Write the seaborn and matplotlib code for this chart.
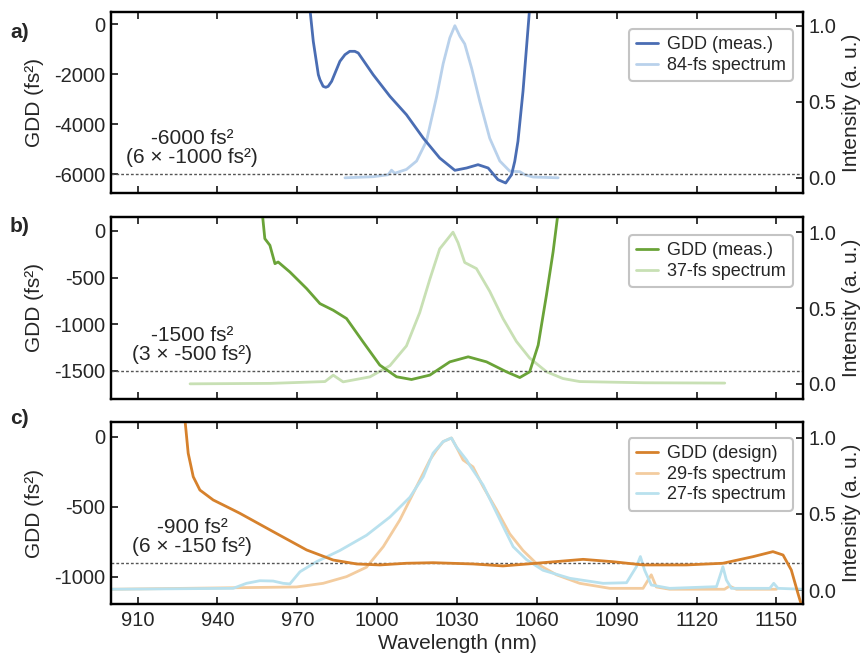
import numpy as np
import pandas as pd
import matplotlib
matplotlib.use("Agg")
import matplotlib.pyplot as plt
import seaborn as sns

# ---------------- data ----------------
# Panel a
a_gdd_wl = [973.8, 974.7, 976.0, 977.9, 978.5, 979.7, 980.7, 981.6, 982.9, 986.0, 987.9,
            989.7, 991.6, 992.9, 998.5, 1004.8, 1011.0, 1017.3, 1023.5, 1029.2, 1033.6,
            1037.9, 1041.7, 1045.4, 1048.3, 1050.5, 1051.7, 1052.9, 1054.8, 1056.3, 1057.3,
            1058.2]
a_gdd = [1500, 640, -693, -2027, -2227, -2493, -2533, -2493, -2293, -1493, -1227,
         -1093, -1093, -1160, -2027, -2893, -3627, -4560, -5360, -5853, -5760,
         -5627, -5760, -6227, -6360, -6027, -5493, -4693, -2693, -693, 640,
         1800]
a_spec_wl = [987.9, 998.5, 1004.1, 1005.4, 1006.6, 1011.0, 1014.8, 1018.5, 1022.3, 1024.8,
             1027.3, 1029.2, 1031.1, 1032.9, 1035.5, 1038.6, 1042.3, 1046.1, 1049.8, 1053.6,
             1055.5, 1058.6, 1068.0]
a_spec = [0.0, 0.007, 0.02, 0.05, 0.03, 0.055, 0.11, 0.24, 0.53, 0.75,
          0.92, 1.0, 0.93, 0.88, 0.72, 0.50, 0.26, 0.11, 0.044, 0.04,
          0.02, 0.005, 0.0]

# Panel b
b_gdd_wl = [956.0, 956.8, 957.8, 959.7, 961.6, 962.8, 967.2, 973.5, 978.5, 983.5, 988.5,
            994.7, 1001.0, 1007.3, 1012.9, 1019.8, 1027.3, 1034.2, 1041.1, 1048.6, 1053.6,
            1057.3, 1060.5, 1063.6, 1066.1, 1068.0, 1069.0]
b_gdd = [450, 203, -82, -153, -350, -332, -439, -617, -778, -849, -938,
         -1188, -1437, -1562, -1591, -1544, -1402, -1348, -1402, -1509, -1570,
         -1509, -1223, -688, -225, 203, 450]
b_spec_wl = [929.7, 960.0, 980.4, 983.5, 987.2, 997.3, 1004.8, 1011.0, 1016.0, 1019.8,
             1023.5, 1026.0, 1028.5, 1030.4, 1032.9, 1037.3, 1042.3, 1047.3, 1052.3,
             1057.3, 1063.6, 1069.8, 1076.1, 1100.0, 1130.6]
b_spec = [0.0, 0.003, 0.015, 0.057, 0.013, 0.046, 0.12, 0.25, 0.47, 0.69,
          0.89, 0.945, 1.0, 0.93, 0.80, 0.76, 0.61, 0.43, 0.28,
          0.17, 0.08, 0.035, 0.015, 0.007, 0.005]

# Panel c
c_gdd_wl = [927.3, 927.8, 929.0, 930.9, 933.4, 938.4, 945.9, 948.4, 960.9, 973.5, 983.5,
            992.3, 1001.0, 1011.0, 1021.0, 1036.0, 1047.3, 1059.8, 1077.4, 1088.6, 1099.9,
            1116.2, 1129.9, 1141.2, 1148.7, 1152.5, 1155.6, 1158.1, 1159.4, 1160.5]
c_gdd = [200, 121, -116, -284, -379, -450, -521, -545, -676, -807, -879,
         -907, -914, -902, -898, -907, -921, -902, -874, -891, -914,
         -914, -902, -855, -819, -843, -950, -1117, -1200, -1350]
c_spec29_wl = [900.0, 969.7, 979.7, 988.5, 996.0, 1002.3, 1008.5, 1014.8, 1019.8, 1022.3,
               1024.8, 1027.9, 1029.8, 1032.3, 1036.0, 1039.8, 1044.8, 1049.8, 1054.8, 1059.8,
               1067.4, 1076.1, 1087.4, 1099.9, 1103.0, 1104.9, 1109.9, 1130.5, 1132.4, 1135.0,
               1150.0]
c_spec29 = [0.005, 0.02, 0.044, 0.088, 0.15, 0.285, 0.46, 0.68, 0.855, 0.92,
            0.976, 1.0, 0.94, 0.855, 0.81, 0.68, 0.53, 0.37, 0.26, 0.175,
            0.10, 0.044, 0.011, 0.011, 0.10, 0.02, 0.005, 0.005, 0.026, 0.005,
            0.005]
c_spec27_wl = [900.0, 945.9, 950.9, 955.9, 960.9, 964.7, 967.2, 971.0, 977.2, 986.0,
               996.0, 1004.8, 1012.3, 1017.3, 1021.0, 1024.8, 1027.9, 1029.8, 1033.6, 1034.8,
               1039.8, 1047.3, 1051.1, 1056.1, 1062.3, 1072.4, 1084.9, 1093.7, 1097.4, 1098.9,
               1100.5, 1103.0, 1109.9, 1127.5, 1128.7, 1129.9, 1131.2, 1133.1, 1147.5, 1149.0,
               1150.6, 1160.0]
c_spec27 = [0.005, 0.011, 0.044, 0.061, 0.059, 0.044, 0.04, 0.12, 0.186, 0.26,
            0.36, 0.48, 0.61, 0.745, 0.9, 0.976, 1.0, 0.94, 0.855, 0.82,
            0.69, 0.42, 0.285, 0.2, 0.13, 0.077, 0.044, 0.048, 0.153, 0.22,
            0.13, 0.033, 0.011, 0.022, 0.087, 0.153, 0.066, 0.011, 0.011, 0.044,
            0.011, 0.005]

x_ticks = [910, 940, 970, 1000, 1030, 1060, 1090, 1120, 1150]

# ---------------- style ----------------
sns.set_style("ticks")
plt.rcParams['font.family'] = ['Liberation Sans', 'DejaVu Sans']
plt.rcParams['axes.unicode_minus'] = False

W, H = 863, 657
fig = plt.figure(figsize=(W / 100, H / 100), dpi=100)

def rect(top, bottom, left=111, right=803):
    return [left / W, 1 - bottom / H, (right - left) / W, (bottom - top) / H]

TICK_FS = 14.5
LAB_FS = 15

panels = [
    dict(rect=rect(12, 193), gdd=(a_gdd_wl, a_gdd, 'GDD (meas.)', '#4a6db3'),
         spectra=[(a_spec_wl, a_spec, '84-fs spectrum', '#b9d1eb')],
         ylim=(-6760, 480), yticks=[0, -2000, -4000, -6000], target=-6000,
         text='-6000 fs²\n(6 × -1000 fs²)', y2lim=(-0.1, 1.09), legy=0.906),
    dict(rect=rect(217, 399), gdd=(b_gdd_wl, b_gdd, 'GDD (meas.)', '#6aa338'),
         spectra=[(b_spec_wl, b_spec, '37-fs spectrum', '#c8e0b4')],
         ylim=(-1800, 150), yticks=[0, -500, -1000, -1500], target=-1500,
         text='-1500 fs²\n(3 × -500 fs²)', y2lim=(-0.1, 1.1), legy=0.901),
    dict(rect=rect(422, 604), gdd=(c_gdd_wl, c_gdd, 'GDD (design)', '#d6812c'),
         spectra=[(c_spec29_wl, c_spec29, '29-fs spectrum', '#f3cc9f'),
                  (c_spec27_wl, c_spec27, '27-fs spectrum', '#b9e1ee')],
         ylim=(-1193, 107), yticks=[0, -500, -1000], target=-900,
         text='-900 fs²\n(6 × -150 fs²)', y2lim=(-0.092, 1.105), legy=0.912),
]

for i, p in enumerate(panels):
    ax = fig.add_axes(p['rect'])
    ax2 = ax.twinx()
    ax.set_zorder(ax2.get_zorder() + 1)
    ax.patch.set_visible(False)

    handles = []
    wl, g, lab, col = p['gdd']
    sns.lineplot(x=wl, y=g, ax=ax, color=col, lw=2.0, estimator=None, sort=False,
                 label=lab, legend=False)
    handles.append(ax.get_lines()[-1])
    for swl, s, slab, scol in p['spectra']:
        sns.lineplot(x=swl, y=s, ax=ax2, color=scol, lw=2.0, estimator=None, sort=False,
                     label=slab, legend=False)
        handles.append(ax2.get_lines()[-1])

    ax.axhline(p['target'], color='#555555', ls=(0, (2, 1.5)), lw=1.0, zorder=1)
    ax.annotate(p['text'], xy=(930.5, p['target']), xytext=(0, 5), textcoords='offset points',
                ha='center', va='bottom', multialignment='center', fontsize=LAB_FS,
                linespacing=1.0)

    ax.set_xlim(900, 1160)
    ax.set_ylim(*p['ylim'])
    ax.set_yticks(p['yticks'])
    ax.set_yticklabels([str(v) for v in p['yticks']])
    ax.set_xticks(x_ticks)
    ax2.set_ylim(*p['y2lim'])
    ax2.set_yticks([0, 0.5, 1.0])
    ax2.set_yticklabels(['0.0', '0.5', '1.0'])

    ax.tick_params(axis='x', direction='in', top=True, bottom=True, length=5, width=1.3,
                   labelsize=TICK_FS, pad=5, labelbottom=(i == 2))
    ax.tick_params(axis='y', direction='in', left=True, length=5, width=1.3,
                   labelsize=TICK_FS, pad=4)
    ax2.tick_params(axis='y', direction='in', right=True, length=5, width=1.3,
                    labelsize=TICK_FS, pad=4)
    for a in (ax, ax2):
        for sp in a.spines.values():
            sp.set_linewidth(1.6)
            sp.set_color('black')

    ax.set_ylabel('GDD (fs²)', fontsize=LAB_FS)
    ax.yaxis.set_label_coords(-0.097, 0.5)
    ax2.set_ylabel('Intensity (a. u.)', fontsize=LAB_FS)
    ax2.yaxis.set_label_coords(1.056, 0.5)
    ax.set_xlabel('')
    if i == 2:
        ax.set_xlabel('Wavelength (nm)', fontsize=LAB_FS, labelpad=3)

    leg = ax.legend(handles=handles, labels=[h.get_label() for h in handles],
                    loc='upper right', bbox_to_anchor=(0.9855, p['legy']), borderaxespad=0,
                    fontsize=13, frameon=True, fancybox=True, handlelength=1.2,
                    handletextpad=0.5, labelspacing=0.2, borderpad=0.4)
    leg.get_frame().set_edgecolor('#c4c4c4')
    leg.get_frame().set_linewidth(1.5)
    leg.get_frame().set_alpha(1)

for lab, y in [('a)', 33), ('b)', 226), ('c)', 418)]:
    fig.text(10 / W, 1 - y / H, lab, fontsize=15, fontweight='bold', ha='left', va='center')

fig.savefig('out.png', dpi=100)
